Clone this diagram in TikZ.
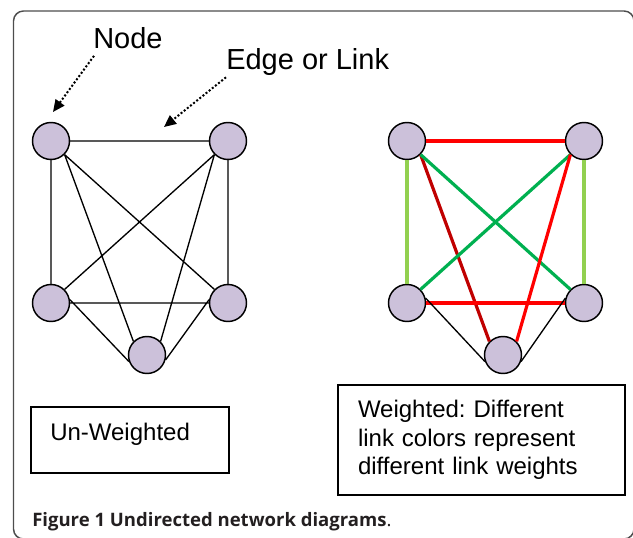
\documentclass[tikz,border=0pt]{standalone}
\usepackage{fontspec}
\setmainfont{Liberation Sans}
\newfontfamily\capfont{Open Sans}
\usetikzlibrary{arrows.meta}
\frenchspacing

\definecolor{vfill}{HTML}{CCC1DA}
\definecolor{wred}{HTML}{FF0000}
\definecolor{wdarkred}{HTML}{C00000}
\definecolor{wgreen}{HTML}{00B050}
\definecolor{wlightgreen}{HTML}{92D050}
\definecolor{capgray}{HTML}{231F20}
\definecolor{framegray}{HTML}{4D4D4D}

\tikzset{
  vertex/.style={circle,draw,line width=1.1pt,fill=vfill,inner sep=0pt,minimum size=27.75pt},
  link/.style={line width=1pt},
  wlink/.style={line width=2.4pt},
  pointer/.style={line width=1.5pt,dash pattern=on 1.5pt off 1.5pt,
    -{Triangle[length=9pt,width=8pt]}},
  tag/.style={font=\fontsize{21.75}{26}\selectfont,inner sep=0pt,anchor=base west},
  box/.style={draw,line width=1pt,inner sep=0pt},
}

\begin{document}
\begin{tikzpicture}[x=0.75pt,y=-0.75pt]
          \useasboundingbox (0,0) rectangle (633,538);
          \draw[framegray,line width=1.1pt,rounded corners=7.5pt] (13.5,11) rectangle (634,539);
          % un-weighted graph
          \begin{scope}
            \node[vertex] (A) at (51,141) {};
            \node[vertex] (B) at (228,141) {};
            \node[vertex] (C) at (51,303) {};
            \node[vertex] (D) at (228,303) {};
            \node[vertex] (E) at (147,355) {};
            \draw[link] (A.east) -- (B.west)
                        (A.south) -- (C.north)
                        (B.south) -- (D.north)
                        (A.south east) -- (E.north west)
                        (A.south east) -- (D.north west)
                        (B.south west) -- (C.north east)
                        (B.south west) -- (E.north east)
                        (C.east) -- (D.west)
                        (C.10) -- (E.200)
                        (D.170) -- (E.-15);
          \end{scope}
          % weighted graph
          \begin{scope}[shift={(356,0)}]
            \node[vertex] (F) at (51,141) {};
            \node[vertex] (G) at (228,141) {};
            \node[vertex] (H) at (51,303) {};
            \node[vertex] (I) at (228,303) {};
            \node[vertex] (J) at (147,355) {};
            \draw[wlink,wred] (F.east) -- (G.west);
            \draw[wlink,wlightgreen] (F.south) -- (H.north);
            \draw[wlink,wlightgreen] (G.south) -- (I.north);
            \draw[wlink,wdarkred] (F.south east) -- (J.north west);
            \draw[wlink,wgreen] (F.south east) -- (I.north west);
            \draw[wlink,wgreen] (G.south west) -- (H.north east);
            \draw[wlink,wred] (G.south west) -- (J.north east);
            \draw[wlink,wred] (H.east) -- (I.west);
            \draw[link] (H.15) -- (J.200) (I.165) -- (J.-20);
          \end{scope}
          % labels
          \node[tag] (nodelbl) at (93,48.3) {Node};
          \node[tag] (edgelbl) at (226,70) {Edge or Link};
          \coordinate (ntip) at (53,112);
          \coordinate (etip) at (164,127);
          \draw[pointer] (nodelbl.south west) ++(1,7) -- (ntip);
          \draw[pointer] (edgelbl.south west) ++(0,1) -- (etip);
          % legends
          \node[box,minimum width=148.5pt,minimum height=49.5pt] (uwbox) at (130,440) {};
          \node[inner sep=0pt,anchor=base west,font=\fontsize{18}{21.2}\selectfont] (uwtext) at (50,441) {Un-Weighted};
          \node[box,inner xsep=15pt,text width=185.25pt,minimum height=82.5pt,align=left,
                font=\fontsize{18}{21.2}\selectfont] (wbox) at (481.5,440)
                {Weighted: Different\\link colors represent\\different link weights};
          \node[inner sep=0pt,anchor=base west,text=capgray,
                font=\capfont\fontsize{13.9}{16}\selectfont] (caption) at (32,527)
                {{\bfseries Figure 1 Undirected network diagrams}.};
\end{tikzpicture}
\end{document}
